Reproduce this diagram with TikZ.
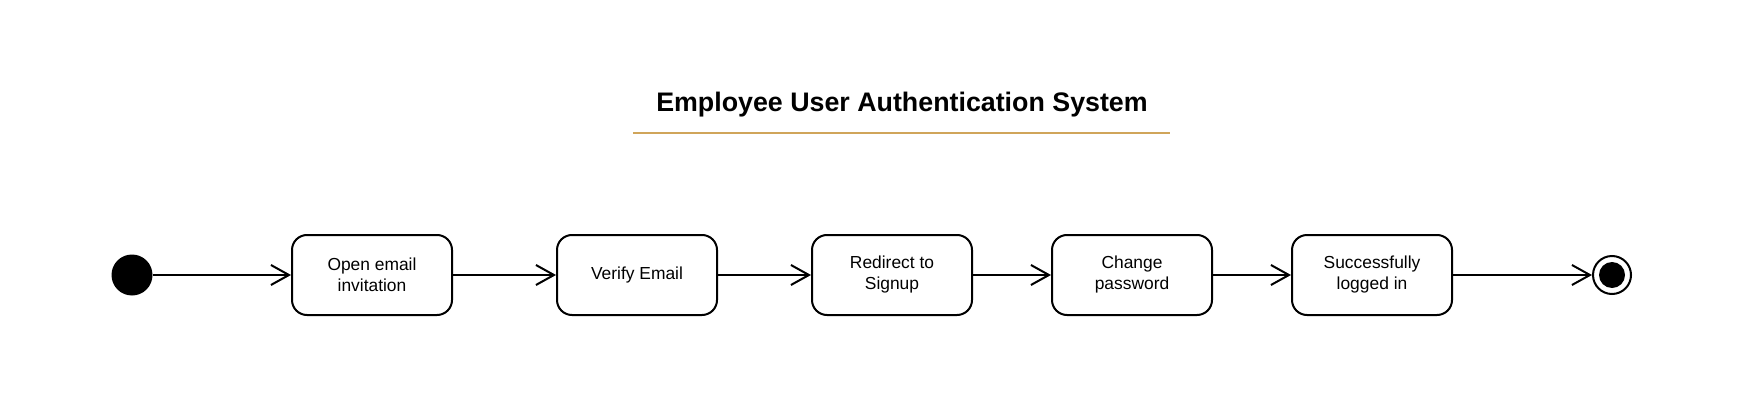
\documentclass[tikz,border=0pt]{standalone}
\usepackage{fontspec}
\setmainfont{Liberation Sans}
\usepackage{tikz}
\usetikzlibrary{positioning, arrows.meta}

\definecolor{titleline}{RGB}{208,165,90}

\tikzset{
  action/.style={draw, line width=1pt, rounded corners=7.5pt, minimum width=80pt, minimum height=40pt,
    align=center, inner sep=0pt, font=\fontsize{8.7}{10.5}\selectfont},
  flow/.style={line width=1pt, -{Straight Barb[length=9pt,width=10pt,line width=1pt]}}
}

\begin{document}
\begin{tikzpicture}[x=0.5pt, y=-0.5pt]
    % feste Bildgroesse (1750 x 417)
    \useasboundingbox (0,0) rectangle (1750,417);

    % Titel mit Unterstrich
    \node[font=\bfseries\fontsize{13.4}{15}\selectfont] (title) at (902,104.5) {Employee User Authentication System};
    \draw[titleline, line width=1pt] (633,133) -- (1170,133);

    % Start- und Endzustand
    \node[circle, fill=black, minimum size=20.5pt, inner sep=0pt] (start) at (132,275) {};
    \node[circle, draw, line width=1pt, minimum size=19pt, inner sep=0pt] (stop) at (1612,275) {};
    \node[circle, fill=black, minimum size=13pt, inner sep=0pt] (stopdot) at (stop.center) {};

    % Aktionen
    \node[action] (open)     at (372,275)  {Open email\\invitation};
    \node[action] (verify)   at (637,275)  {Verify Email};
    \node[action] (redirect) at (892,275)  {Redirect to\\Signup};
    \node[action] (change)   at (1132,275) {Change\\password};
    \node[action] (success)  at (1372,275) {Successfully\\logged in};

    % Uebergaenge
    \draw[flow] (start) -- (open);
    \draw[flow] (open) -- (verify);
    \draw[flow] (verify) -- (redirect);
    \draw[flow] (redirect) -- (change);
    \draw[flow] (change) -- (success);
    \draw[flow] (success) -- (stop);
\end{tikzpicture}
\end{document}
